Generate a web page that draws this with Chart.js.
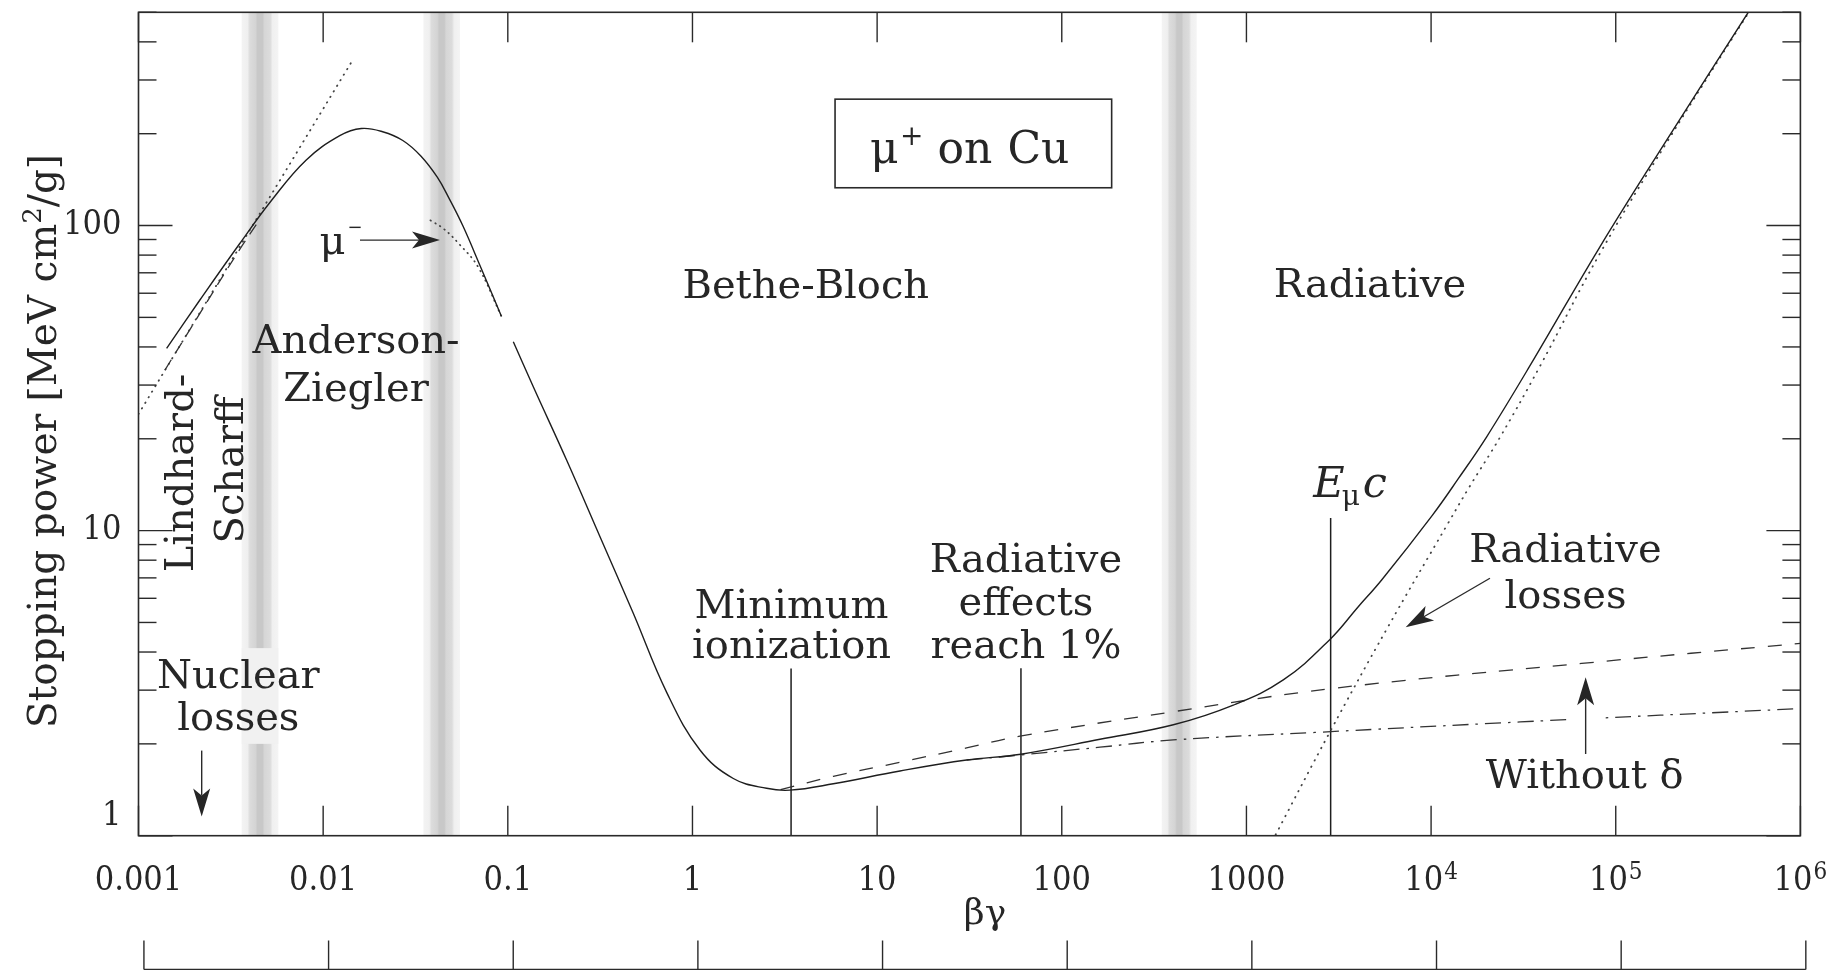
<!DOCTYPE html>
<html>
<head>
<meta charset="utf-8">
<title>Stopping power for positive muons in copper</title>
<script src="https://cdn.jsdelivr.net/npm/chart.js@4.4.1/dist/chart.umd.min.js"></script>
<style>
  html, body { margin: 0; padding: 0; background: #fff; }
  #wrap { width: 1835px; height: 970px; position: relative; }
</style>
</head>
<body>
<div id="wrap"><canvas id="stoppingChart"></canvas></div>
<script>
// --- curve data: beta*gamma and stopping power [MeV cm^2/g] ---

// total stopping power below the break at bg ~ 0.1 (ICRU 49)
const bgIcru   = [0.00142, 0.00215, 0.00352, 0.00526, 0.0081, 0.0123, 0.0161, 0.021, 0.027, 0.0338, 0.0415, 0.048, 0.057, 0.07, 0.0922];
const dedxIcru = [39.6, 57.0, 87.0, 121, 164, 197, 208, 203, 190, 169, 144, 123, 100, 75, 50.5];

// total stopping power above the break (Bethe-Bloch + radiative)
const bgTotal   = [0.1071, 0.1374, 0.2084, 0.3157, 0.478, 0.725, 1.098, 1.664, 2.52, 3.37, 5.79, 13.3, 30.5, 60, 161, 402, 849, 1583, 2834, 4012, 5398, 10130, 14040, 20000, 35760, 82100, 188700, 522000];
const dedxTotal = [41.6, 29.6, 17.0, 9.55, 5.36, 2.95, 1.91, 1.54, 1.43, 1.41, 1.48, 1.63, 1.77, 1.85, 2.07, 2.31, 2.68, 3.24, 4.40, 5.61, 6.89, 11.2, 14.8, 20.3, 36.2, 85.2, 190.6, 500];

// Lindhard-Scharff region
const bgLsDash   = [0.00139, 0.00215, 0.00333, 0.0045];
const dedxLsDash = [33.6, 51.5, 79.0, 104];
const bgLsDot    = [0.001, 0.0143];
const dedxLsDot  = [24.1, 345];

// negative muon (Barkas effect)
const bgMuMinus   = [0.0381, 0.045, 0.0545, 0.0692, 0.0922];
const dedxMuMinus = [104.0, 97.5, 87.0, 73.0, 50.5];

// ionization without density-effect correction
const bgNoDelta   = [3.0, 5.79, 13.3, 30.5, 59.4, 402, 2954, 65400, 1e6];
const dedxNoDelta = [1.415, 1.565, 1.74, 1.94, 2.12, 2.55, 3.04, 3.67, 4.27];

// ionization with density effect
const bgIon   = [30.5, 60, 161, 402, 2350, 30330, 1e6];
const dedxIon = [1.77, 1.84, 1.95, 2.06, 2.18, 2.36, 2.61];

// radiative losses alone
const bgRad   = [1380, 2834, 5745, 12390, 16230, 23590, 38880, 82100, 188700, 522000];
const dedxRad = [0.96, 2.19, 4.75, 10.6, 14.0, 20.2, 34.6, 81.0, 187, 497];

// vertical markers: minimum ionization, radiative effects reach 1%, E_muc
const markerBg  = [3.42, 60.1, 2858];
const markerTop = [3.53, 3.54, 11.0];

// shaded boundaries between approximations (bg ranges)
const bandEdges = [[0.00362, 0.00572], [0.0349, 0.0551], [348, 538]];

// axis ticks
const bgTicks       = [1e-3, 1e-2, 1e-1, 1, 10, 100, 1000, 1e4, 1e5, 1e6];
const bgTickText    = ['0.001', '0.01', '0.1', '1', '10', '100', '1000', '10', '10', '10'];
const bgTickExp     = ['', '', '', '', '', '', '', '4', '5', '6'];
const dedxTicks     = [1, 2, 3, 4, 5, 6, 7, 8, 9, 10, 20, 30, 40, 50, 60, 70, 80, 90, 100, 200, 300, 400, 500];
const dedxTickText  = ['1', '10', '100'];
const momentumTicks = [0.00107, 0.0107, 0.107, 1.07, 10.7, 107, 1070, 10700, 107000, 1070000];

const SERIF = '"DejaVu Serif", "Liberation Serif", serif';
const NUM = '"DejaVu Serif Condensed", "DejaVu Serif", serif';
const INK = '#262626';

const pts = (xs, ys) => xs.map((x, i) => ({ x, y: ys[i] }));

const curve = (data, extra) => Object.assign({
  data, borderColor: '#1e1e1e', borderWidth: 1.4, pointRadius: 0,
  tension: 0.4, fill: false
}, extra);

const markerSets = markerBg.map((b, i) => ({
  data: [{ x: b, y: 1 }, { x: b, y: markerTop[i] }],
  borderColor: '#1e1e1e', borderWidth: 1.5, pointRadius: 0, tension: 0
}));

// text made of pieces with their own font / vertical offset
function runsWidth(ctx, runs) {
  return runs.reduce((w, r) => {
    ctx.font = r.font;
    return w + (r.dx || 0) + ctx.measureText(r.t).width;
  }, 0);
}
function drawRuns(ctx, runs, x, y, align) {
  const w = runsWidth(ctx, runs);
  let cx = align === 'center' ? x - w / 2 : align === 'right' ? x - w : x;
  ctx.textAlign = 'left';
  ctx.textBaseline = 'alphabetic';
  runs.forEach(r => {
    ctx.font = r.font;
    cx += r.dx || 0;
    ctx.fillText(r.t, cx, y + (r.dy || 0));
    cx += ctx.measureText(r.t).width;
  });
}

function arrow(ctx, x0, y0, x1, y1) {
  const ang = Math.atan2(y1 - y0, x1 - x0);
  const len = 28, half = 8.5, notch = 7;
  ctx.beginPath();
  ctx.moveTo(x0, y0);
  ctx.lineTo(x1 - Math.cos(ang) * (len - notch), y1 - Math.sin(ang) * (len - notch));
  ctx.stroke();
  ctx.save();
  ctx.translate(x1, y1);
  ctx.rotate(ang);
  ctx.beginPath();
  ctx.moveTo(0, 0);
  ctx.lineTo(-len, -half);
  ctx.lineTo(-len + notch, 0);
  ctx.lineTo(-len, half);
  ctx.closePath();
  ctx.fill();
  ctx.restore();
}

const LABEL = `40px ${SERIF}`;
const notes = [
  { text: 'Bethe-Bloch', bg: 4.11, v: 57.7 },
  { text: 'Radiative', bg: 4667, v: 58.3 },
  { text: 'Anderson-', bg: 0.01507, v: 38.1 },
  { text: 'Ziegler', bg: 0.01507, v: 26.7 },
  { text: 'Nuclear', bg: 0.003472, v: 3.05 },
  { text: 'losses', bg: 0.003472, v: 2.224 },
  { text: 'Minimum', bg: 3.44, v: 5.19 },
  { text: 'ionization', bg: 3.44, v: 3.81 },
  { text: 'Radiative', bg: 64, v: 7.29 },
  { text: 'effects', bg: 64, v: 5.29 },
  { text: 'reach 1%', bg: 64, v: 3.815 },
  { text: 'Radiative', bg: 53420, v: 7.91 },
  { text: 'losses', bg: 53420, v: 5.565 },
  { text: 'Without δ', bg: 67860, v: 1.43 }
];
const sideNotes = [
  { text: 'Lindhard-', bg: 0.001973, v: 15.45 },
  { text: 'Scharff', bg: 0.00368, v: 15.8 }
];

const decorations = {
  id: 'decorations',
  beforeDatasetsDraw(chart) {
    const { ctx, chartArea: a, scales: { x, y } } = chart;
    ctx.save();
    bandEdges.forEach(([lo, hi]) => {
      const x0 = x.getPixelForValue(lo), x1 = x.getPixelForValue(hi);
      const g = ctx.createLinearGradient(x0, 0, x1, 0);
      g.addColorStop(0, '#f3f3f3');
      g.addColorStop(0.16, '#efefef');
      g.addColorStop(0.22, '#dcdcdc');
      g.addColorStop(0.38, '#d4d4d4');
      g.addColorStop(0.43, '#c8c8c8');
      g.addColorStop(0.57, '#c8c8c8');
      g.addColorStop(0.62, '#d6d6d6');
      g.addColorStop(0.78, '#dcdcdc');
      g.addColorStop(0.84, '#f0f0f0');
      g.addColorStop(1, '#f4f4f4');
      ctx.fillStyle = g;
      ctx.fillRect(x0, a.top, x1 - x0, a.bottom - a.top);
    });
    // pale patch behind "Nuclear losses"
    const [lo, hi] = bandEdges[0];
    const px0 = x.getPixelForValue(lo), px1 = x.getPixelForValue(hi);
    const py0 = y.getPixelForValue(4.12), py1 = y.getPixelForValue(2.0);
    ctx.fillStyle = '#f1f1f1';
    ctx.fillRect(px0, py0, px1 - px0, py1 - py0);
    ctx.restore();
  },
  afterDatasetsDraw(chart) {
    const { ctx, chartArea: a, scales: { x, y } } = chart;
    const X = v => x.getPixelForValue(v), Y = v => y.getPixelForValue(v);
    ctx.save();
    ctx.strokeStyle = '#2a2a2a';
    ctx.fillStyle = INK;

    // frame
    ctx.lineWidth = 1.6;
    ctx.strokeRect(a.left, a.top, a.right - a.left, a.bottom - a.top);

    // inward ticks
    ctx.lineWidth = 1.4;
    const seg = (x0, y0, x1, y1) => { ctx.beginPath(); ctx.moveTo(x0, y0); ctx.lineTo(x1, y1); ctx.stroke(); };
    bgTicks.forEach(v => {
      const px = X(v);
      seg(px, a.bottom, px, a.bottom - 30);
      seg(px, a.top, px, a.top + 30);
    });
    dedxTicks.forEach(v => {
      const py = Y(v);
      const major = Math.abs(Math.log10(v) - Math.round(Math.log10(v))) < 1e-9;
      const len = major ? 34 : 18;
      seg(a.left, py, a.left + len, py);
      seg(a.right, py, a.right - len, py);
    });

    // secondary momentum axis below
    const lowY = a.bottom + 133.8;
    seg(X(momentumTicks[0]), lowY, X(momentumTicks[momentumTicks.length - 1]), lowY);
    momentumTicks.forEach(v => seg(X(v), lowY, X(v), lowY - 29));

    // tick labels
    bgTicks.forEach((v, i) => {
      const runs = [{ t: bgTickText[i], font: `34px ${NUM}` }];
      if (bgTickExp[i]) runs.push({ t: bgTickExp[i], font: `24px ${NUM}`, dy: -11, dx: 1 });
      drawRuns(ctx, runs, X(v), a.bottom + 54, 'center');
    });
    ctx.font = `34px ${NUM}`;
    ctx.textAlign = 'right';
    ctx.textBaseline = 'middle';
    dedxTickText.forEach(t => {
      const v = Number(t);
      ctx.fillText(t, a.left - 17, Y(v) - (v === 1 ? 20 : 0));
    });

    // axis titles
    drawRuns(ctx, [{ t: 'βγ', font: `36px ${SERIF}` }], 985, a.bottom + 88, 'center');
    ctx.save();
    ctx.translate(56, (a.top + a.bottom) / 2 + 17);
    ctx.rotate(-Math.PI / 2);
    drawRuns(ctx, [
      { t: 'Stopping power [MeV cm', font: `39px ${SERIF}` },
      { t: '2', font: `26px ${SERIF}`, dy: -15 },
      { t: '/g]', font: `39px ${SERIF}` }
    ], 0, 0, 'center');
    ctx.restore();

    // region and feature labels
    ctx.fillStyle = INK;
    notes.forEach(n => drawRuns(ctx, [{ t: n.text, font: LABEL }], X(n.bg), Y(n.v), 'center'));
    sideNotes.forEach(n => {
      ctx.save();
      ctx.translate(X(n.bg), Y(n.v));
      ctx.rotate(-Math.PI / 2);
      drawRuns(ctx, [{ t: n.text, font: LABEL }], 0, 0, 'center');
      ctx.restore();
    });

    // boxed title
    ctx.lineWidth = 1.6;
    const bx = X(33.2), by = Y(185.8);
    ctx.strokeRect(bx - 138.3, by - 44.3, 276.6, 88.6);
    drawRuns(ctx, [
      { t: 'μ', font: `44px ${SERIF}` },
      { t: '+', font: `28px ${SERIF}`, dy: -18, dx: 1.5 },
      { t: 'on', font: `44px ${SERIF}`, dx: 14 },
      { t: 'Cu', font: `44px ${SERIF}`, dx: 15 }
    ], X(9.15), Y(160.6), 'left');

    // mu- label and arrow
    drawRuns(ctx, [
      { t: 'μ', font: LABEL },
      { t: '−', font: `18px ${SERIF}`, dy: -21.5, dx: 2 }
    ], X(0.009566), Y(80.6), 'left');
    ctx.lineWidth = 1.4;
    arrow(ctx, X(0.01583), Y(89.6), X(0.04293), Y(89.6));

    // E_muc
    drawRuns(ctx, [
      { t: 'E', font: `italic 43px ${SERIF}` },
      { t: 'μ', font: `28px ${SERIF}`, dy: 8, dx: -3 },
      { t: 'c', font: `italic 43px ${SERIF}`, dx: 3 }
    ], X(2301), Y(12.91), 'left');

    // arrows
    arrow(ctx, X(0.002199), Y(1.901), X(0.002199), Y(1.157));
    arrow(ctx, X(20830), Y(6.98), X(7283), Y(4.82));
    const ax = X(68710);
    ctx.fillStyle = '#fff';
    ctx.fillRect(ax - 18, Y(2.95), 36, Y(1.853) - Y(2.95));
    ctx.fillStyle = INK;
    arrow(ctx, ax, Y(1.853), ax, Y(3.305));

    ctx.restore();
  }
};

new Chart(document.getElementById('stoppingChart'), {
  type: 'line',
  data: {
    datasets: [
      curve(pts(bgIcru, dedxIcru)),
      curve(pts(bgTotal, dedxTotal)),
      curve(pts(bgLsDash, dedxLsDash), { borderColor: '#333', borderWidth: 1.3, borderDash: [12, 8] }),
      curve(pts(bgLsDot, dedxLsDot), { borderColor: '#444', borderWidth: 1.8, borderDash: [0.5, 6], borderCapStyle: 'round', tension: 0 }),
      curve(pts(bgMuMinus, dedxMuMinus), { borderColor: '#444', borderWidth: 1.8, borderDash: [0.5, 5], borderCapStyle: 'round' }),
      curve(pts(bgNoDelta, dedxNoDelta), { borderColor: '#333', borderWidth: 1.3, borderDash: [14, 13] }),
      curve(pts(bgIon, dedxIon), { borderColor: '#333', borderWidth: 1.3, borderDash: [16, 7, 2.5, 7] }),
      curve(pts(bgRad, dedxRad), { borderColor: '#444', borderWidth: 1.8, borderDash: [0.5, 6.5], borderCapStyle: 'round' }),
      ...markerSets
    ]
  },
  options: {
    responsive: true,
    maintainAspectRatio: false,
    animation: false,
    events: [],
    layout: { padding: { left: 138.5, top: 12.3, right: 34.6, bottom: 134.3 } },
    scales: {
      x: { type: 'logarithmic', min: 0.001, max: 1e6, display: false },
      y: { type: 'logarithmic', min: 1, max: 500, display: false }
    },
    plugins: {
      legend: { display: false },
      tooltip: { enabled: false }
    }
  },
  plugins: [decorations]
});
</script>
</body>
</html>
